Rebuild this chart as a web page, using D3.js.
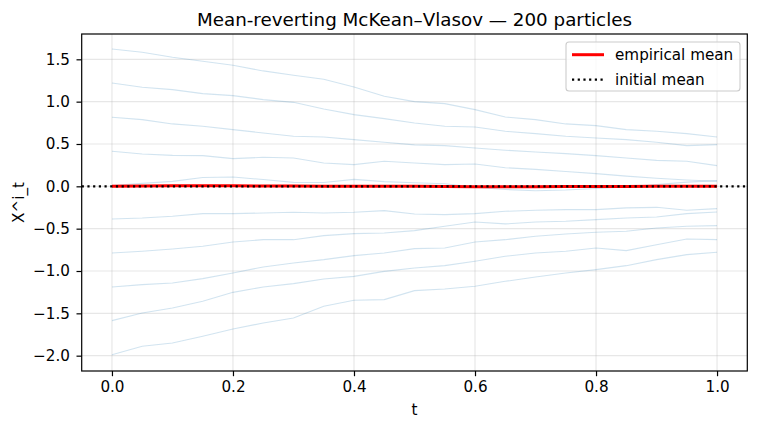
<!DOCTYPE html>
<html>
<head>
<meta charset="utf-8">
<script src="https://cdn.jsdelivr.net/npm/d3@7"></script>
<style>
  body { margin: 0; background: #fff; }
  text { font-family: "DejaVu Sans", sans-serif; fill: #000; }
</style>
</head>
<body>
<script>
// time grid (every 0.05)
const tValues = [0, 0.05, 0.1, 0.15, 0.2, 0.25, 0.3, 0.35, 0.4, 0.45, 0.5,
                 0.55, 0.6, 0.65, 0.7, 0.75, 0.8, 0.85, 0.9, 0.95, 1.0];

// a few of the 200 particle paths
const path1 = [1.622, 1.583, 1.524, 1.477, 1.429, 1.363, 1.311, 1.264, 1.174, 1.063, 1.0, 0.977, 0.906, 0.819, 0.788, 0.737, 0.717, 0.67, 0.65, 0.622, 0.583];
const path2 = [1.221, 1.17, 1.142, 1.095, 1.071, 1.024, 0.992, 0.914, 0.847, 0.8, 0.748, 0.709, 0.701, 0.65, 0.622, 0.591, 0.571, 0.552, 0.52, 0.481, 0.492];
const path3 = [0.815, 0.788, 0.737, 0.709, 0.67, 0.63, 0.591, 0.583, 0.552, 0.52, 0.489, 0.481, 0.453, 0.426, 0.406, 0.386, 0.363, 0.335, 0.307, 0.296, 0.244];
const path4 = [0.414, 0.382, 0.366, 0.363, 0.327, 0.343, 0.335, 0.276, 0.256, 0.296, 0.276, 0.256, 0.264, 0.22, 0.2, 0.175, 0.15, 0.12, 0.095, 0.075, 0.06];
const path5 = [0.01, 0.035, 0.058, 0.105, 0.11, 0.08, 0.047, 0.045, 0.082, 0.055, 0.042, 0.03, -0.01, -0.037, -0.052, -0.043, -0.026, -0.006, 0.02, 0.05, 0.067];
const path6 = [-0.385, -0.374, -0.354, -0.322, -0.322, -0.315, -0.307, -0.315, -0.307, -0.287, -0.326, -0.334, -0.322, -0.295, -0.283, -0.275, -0.275, -0.255, -0.248, -0.283, -0.263];
const path7 = [-0.787, -0.767, -0.74, -0.708, -0.657, -0.63, -0.63, -0.582, -0.559, -0.551, -0.523, -0.472, -0.421, -0.444, -0.421, -0.413, -0.393, -0.374, -0.362, -0.322, -0.303];
const path8 = [-1.189, -1.161, -1.141, -1.09, -1.023, -0.952, -0.905, -0.866, -0.818, -0.787, -0.736, -0.728, -0.657, -0.63, -0.59, -0.563, -0.543, -0.531, -0.492, -0.472, -0.464];
const path9 = [-1.586, -1.496, -1.437, -1.358, -1.252, -1.189, -1.149, -1.094, -1.063, -1.004, -0.964, -0.937, -0.885, -0.826, -0.787, -0.767, -0.728, -0.759, -0.689, -0.622, -0.63];
const path10 = [-1.988, -1.889, -1.85, -1.771, -1.685, -1.614, -1.555, -1.417, -1.346, -1.338, -1.232, -1.212, -1.181, -1.122, -1.07, -1.023, -0.984, -0.937, -0.866, -0.807, -0.779];
const paths = [path1, path2, path3, path4, path5, path6, path7, path8, path9, path10];

const meanValues = [0.0, 0.005, 0.008, 0.008, 0.006, 0.004, 0.003, 0.002, 0.002, 0.001, 0.0, -0.002, -0.005, -0.006, -0.005, -0.003, -0.002, -0.001, 0.0, 0.001, 0.002];
const initialMean = 0.0;

const xTicks = [0, 0.2, 0.4, 0.6, 0.8, 1.0];
const yTicks = [-2.0, -1.5, -1.0, -0.5, 0.0, 0.5, 1.0, 1.5];
const legendLabels = ["empirical mean", "initial mean"];

const width = 758, height = 429;
const margin = {left: 81.7, top: 34, right: 758 - 747.3, bottom: 429 - 371};

const svg = d3.select("body").append("svg")
    .attr("width", width)
    .attr("height", height);

const x = d3.scaleLinear().domain([-0.05, 1.05]).range([margin.left, width - margin.right]);
const y = d3.scaleLinear().domain([-2.181, 1.799]).range([height - margin.bottom, margin.top]);

const fmt = d => d3.format(".1f")(d).replace("-", "\u2212");

// grid
const grid = svg.append("g");
grid.selectAll(".gx").data(xTicks).enter().append("line")
    .attr("x1", d => x(d)).attr("x2", d => x(d))
    .attr("y1", margin.top).attr("y2", height - margin.bottom)
    .style("stroke", "#b0b0b0").style("stroke-opacity", 0.3).style("stroke-width", 1.2);
grid.selectAll(".gy").data(yTicks).enter().append("line")
    .attr("x1", margin.left).attr("x2", width - margin.right)
    .attr("y1", d => y(d)).attr("y2", d => y(d))
    .style("stroke", "#b0b0b0").style("stroke-opacity", 0.3).style("stroke-width", 1.2);

const plot = svg.append("g");

const line = d3.line()
    .x((d, i) => x(tValues[i]))
    .y(d => y(d));

// particle paths
plot.selectAll(".particle").data(paths).enter().append("path")
    .attr("d", line)
    .style("fill", "none")
    .style("stroke", "#1f77b4")
    .style("stroke-opacity", 0.2)
    .style("stroke-width", 1.1);

// empirical mean
plot.append("path")
    .attr("d", line(meanValues))
    .style("fill", "none")
    .style("stroke", "red")
    .style("stroke-width", 3);

// initial mean (spans whole axis)
plot.append("line")
    .attr("x1", margin.left).attr("x2", width - margin.right)
    .attr("y1", y(initialMean)).attr("y2", y(initialMean))
    .style("stroke", "black")
    .style("stroke-width", 2.2)
    .style("stroke-dasharray", "2.2,3.5");

// axes
const xAxis = svg.append("g")
    .attr("transform", "translate(0," + (height - margin.bottom) + ")")
    .call(d3.axisBottom(x).tickValues(xTicks).tickFormat(fmt).tickSizeOuter(0).tickSize(5.2).tickPadding(5.5));
const yAxis = svg.append("g")
    .attr("transform", "translate(" + margin.left + ",0)")
    .call(d3.axisLeft(y).tickValues(yTicks).tickFormat(fmt).tickSizeOuter(0).tickSize(5.2).tickPadding(6.5));
[xAxis, yAxis].forEach(a => {
    a.select(".domain").remove();
    a.selectAll(".tick line").style("stroke", "black").style("stroke-width", 1.2);
    a.selectAll(".tick text").style("font-size", "15.2px").style("font-family", "DejaVu Sans, sans-serif").style("fill", "black");
});

// spines
svg.append("rect")
    .attr("x", margin.left).attr("y", margin.top)
    .attr("width", width - margin.right - margin.left)
    .attr("height", height - margin.bottom - margin.top)
    .style("fill", "none").style("stroke", "black").style("stroke-width", 1.2);

// labels
svg.append("text")
    .attr("x", (margin.left + width - margin.right) / 2).attr("y", 26)
    .attr("text-anchor", "middle")
    .style("font-size", "18.3px")
    .text("Mean-reverting McKean\u2013Vlasov \u2014 200 particles");

svg.append("text")
    .attr("x", (margin.left + width - margin.right) / 2).attr("y", 415)
    .attr("text-anchor", "middle")
    .style("font-size", "15.2px")
    .text("t");

svg.append("text")
    .attr("transform", "translate(24," + ((margin.top + height - margin.bottom) / 2) + ") rotate(-90)")
    .attr("text-anchor", "middle")
    .style("font-size", "15.2px")
    .text("X^i_t");

// legend
const legend = svg.append("g");
legend.append("rect")
    .attr("x", 566).attr("y", 42).attr("width", 174).attr("height", 49)
    .attr("rx", 3)
    .style("fill", "white").style("fill-opacity", 0.8)
    .style("stroke", "#cccccc").style("stroke-width", 1.1);
legend.append("line")
    .attr("x1", 572).attr("x2", 604).attr("y1", 54.7).attr("y2", 54.7)
    .style("stroke", "red").style("stroke-width", 3);
legend.append("line")
    .attr("x1", 572).attr("x2", 604).attr("y1", 79.7).attr("y2", 79.7)
    .style("stroke", "black").style("stroke-width", 2.2).style("stroke-dasharray", "2.2,3.5");
legend.selectAll(".lt").data(legendLabels).enter().append("text")
    .attr("x", 615)
    .attr("y", (d, i) => 54.7 + i * 25)
    .attr("dy", "0.35em")
    .style("font-size", "15.2px")
    .text(d => d);
</script>
</body>
</html>
